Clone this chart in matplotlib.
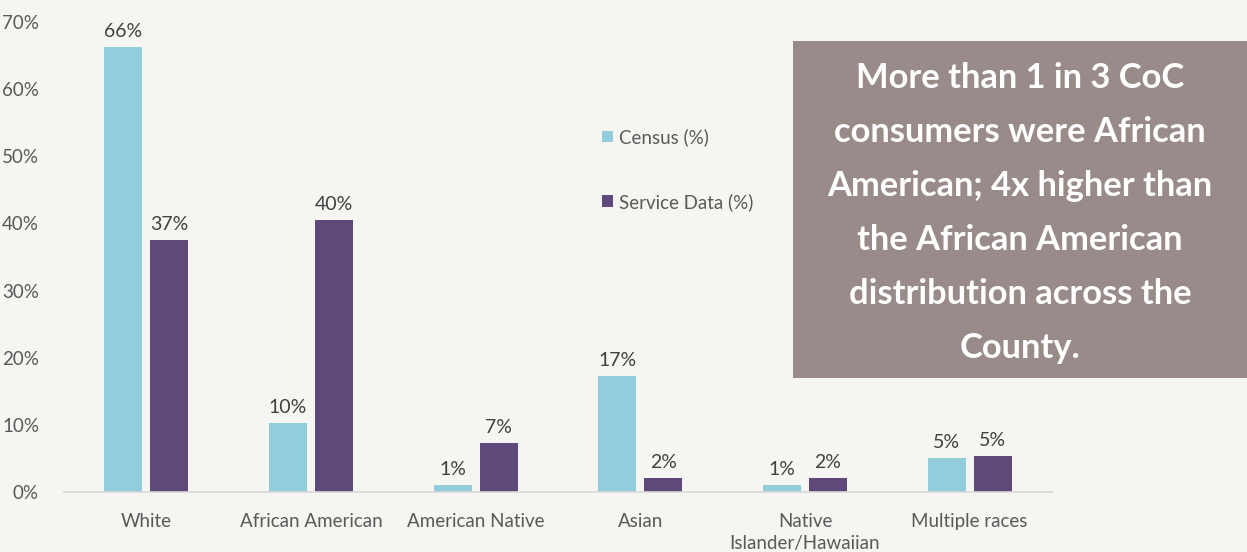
import matplotlib.pyplot as plt
from matplotlib.patches import Rectangle
import numpy as np

# ---------------- Data ----------------
categories = ["White", "African American", "American Native", "Asian",
              "Native\nIslander/Hawaiian", "Multiple races"]
census = [66.3, 10.3, 1.0, 17.3, 1.0, 5.1]
service = [37.5, 40.5, 7.3, 2.1, 2.1, 5.4]
census_labels = ["66%", "10%", "1%", "17%", "1%", "5%"]
service_labels = ["37%", "40%", "7%", "2%", "2%", "5%"]
yticks = [0, 10, 20, 30, 40, 50, 60, 70]

bg = "#f5f6f2"
census_color = "#92cddc"
service_color = "#5f497a"
text_color = "#595959"

plt.rcParams['font.family'] = ['Lato', 'DejaVu Sans']

fig = plt.figure(figsize=(12.47, 5.52), dpi=100, facecolor=bg)
ax = fig.add_axes([0.0513, 0.1087, 0.7923, 0.8513])
ax.set_facecolor(bg)

x = np.arange(len(categories))
width = 0.23
offset = 0.14

b1 = ax.bar(x - offset, census, width, color=census_color, label="Census (%)")
b2 = ax.bar(x + offset, service, width, color=service_color, label="Service Data (%)")

# value labels above the bars
for bars, labels in ((b1, census_labels), (b2, service_labels)):
    for bar, lab in zip(bars, labels):
        ax.annotate(lab, (bar.get_x() + bar.get_width() / 2, bar.get_height()),
                    xytext=(0, 5), textcoords="offset points",
                    ha="center", va="bottom", fontsize=14, color="#404040")

ax.set_xlim(-0.5, len(categories) - 0.5)
ax.set_ylim(0, 70)
ax.set_yticks(yticks)
ax.set_yticklabels([f"{t}%" for t in yticks])
ax.set_xticks(x)
ax.set_xticklabels(categories, va="top", linespacing=1.4)
ax.tick_params(axis="both", length=0, labelsize=13.5, colors=text_color)
ax.tick_params(axis="y", pad=18)
ax.tick_params(axis="x", pad=15)

for side in ("top", "right", "left"):
    ax.spines[side].set_visible(False)
ax.spines["bottom"].set_color("#d9d9d9")
ax.spines["bottom"].set_linewidth(1.2)

ax.legend(loc="upper left", bbox_to_anchor=(0.527, 0.81), frameon=False,
          fontsize=13.5, labelcolor=text_color, handlelength=0.6, handleheight=0.6,
          handletextpad=0.35, labelspacing=2.5)

# call-out box on the right
fig.patches.append(Rectangle((793 / 1247, 1 - 378 / 552), (1247 - 793) / 1247,
                             (378 - 41) / 552, transform=fig.transFigure,
                             facecolor="#9a8b8b", edgecolor="none", zorder=5))
fig.text((793 + 1247) / 2 / 1247, 1 - 213 / 552,
         "More than 1 in 3 CoC\nconsumers were African\nAmerican; 4x higher than\n"
         "the African American\ndistribution across the\nCounty.",
         ha="center", va="center", color="white", fontsize=24.8,
         fontweight="bold", linespacing=1.85, zorder=6)

fig.savefig("out.png", dpi=100, facecolor=bg)
